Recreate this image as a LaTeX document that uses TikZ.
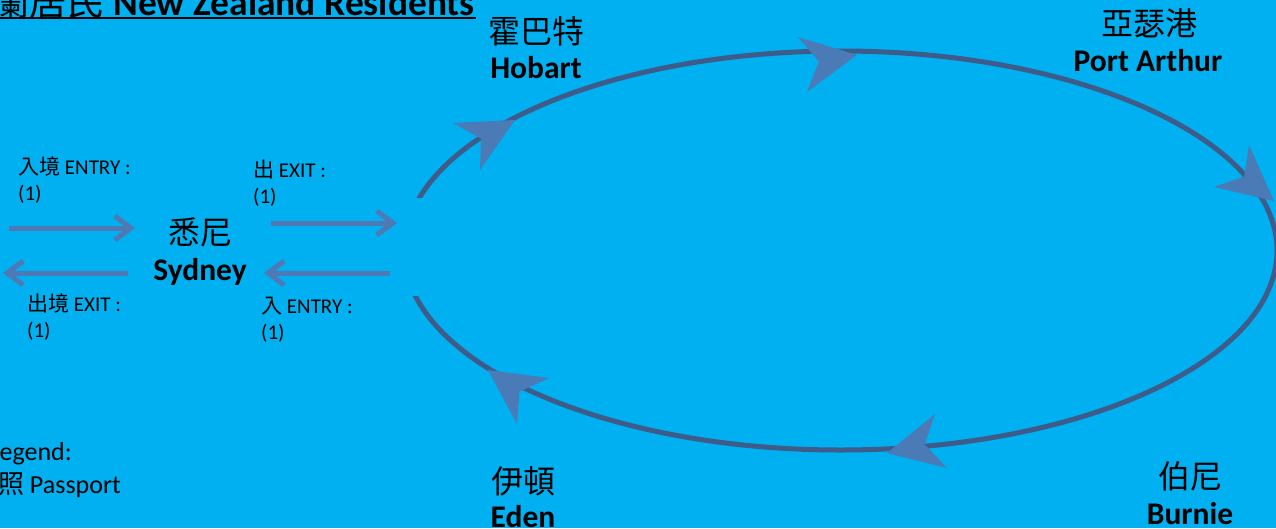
\documentclass[tikz,border=0pt]{standalone}
\usepackage{fontspec}
\setmainfont{Carlito}
\newfontfamily\cjk{Noto Sans CJK TC}
\usetikzlibrary{arrows.meta,calc}
\definecolor{bgc}{HTML}{00B0F0}
\definecolor{ringc}{HTML}{3E5C8A}
\definecolor{headc}{HTML}{4A7BB7}
\definecolor{barc}{HTML}{4F79B4}
\newcommand\AHead[4]{%
  \coordinate (#1t) at #2; \coordinate (#1a) at #3; \coordinate (#1b) at #4;
  \coordinate (#1m) at ($(#1a)!0.5!(#1b)$);
  \fill[headc] (#1t) -- (#1a) -- ($(#1t)!0.7!(#1m)$) -- (#1b) -- cycle;}
\tikzset{
  small/.style={inner sep=0pt, anchor=base west, font=\fontsize{21}{25}\selectfont},
  zh/.style={inner sep=0pt, anchor=base, font=\fontsize{32}{36}\selectfont\cjk},
  en/.style={inner sep=0pt, anchor=base, font=\fontsize{31.5}{36}\selectfont\bfseries},
  leg/.style={inner sep=0pt, anchor=base east, font=\fontsize{26}{30}\selectfont},
  bar/.style={draw=barc, line width=5pt, -{Straight Barb[length=16pt, width=24pt, line width=5pt]}},
}
\begin{document}
\begin{tikzpicture}[x=1pt,y=-1pt]
\useasboundingbox (0,0) rectangle (1276,528);
\clip (0,0) rectangle (1276,528);
\fill[bgc] (0,0) rectangle (1276,528);
% loop
\draw[ringc, line width=5pt] (840.5,250.5) ellipse [x radius=436.5, y radius=199.5];
\fill[bgc] (399,198) rectangle (434,296);
% arrowheads on loop
\AHead{hA}{(515,120)}{(453,123)}{(480,170)}
\AHead{hB}{(857,55)}{(798,37)}{(807,92)}
\AHead{hC}{(1274,201)}{(1249,145)}{(1214,187)}
\AHead{hD}{(887,453)}{(935,414)}{(947,468)}
\AHead{hE}{(488,370)}{(549,378)}{(517,424)}
% title
\node[inner sep=0pt, anchor=base east, font=\fontsize{37.5}{42}\selectfont\bfseries] (title) at (475,15) {{\cjk\mdseries 蘭居民} New Zealand Residents};
\draw[line width=1.8pt] ([yshift=-3pt]title.base west) -- ([yshift=-3pt,xshift=1pt]title.base east);
% Sydney
\node[zh] (syd) at (200,244) {悉尼};
\node[en] (sydE) at (200,280) {Sydney};
% straight arrows
\coordinate (inLs) at (9,228);   \coordinate (inLe) at (135,228);
\coordinate (outLs) at (128,273); \coordinate (outLe) at (3,273);
\coordinate (outRs) at (271,223); \coordinate (outRe) at (397,223);
\coordinate (inRs) at (390,273);  \coordinate (inRe) at (264,273);
\draw[bar] (inLs) -- (inLe);
\draw[bar] (outLs) -- (outLe);
\draw[bar] (outRs) -- (outRe);
\draw[bar] (inRs) -- (inRe);
% labels
\node[small] (inlbl) at (18,174) {{\cjk 入境} ENTRY :};
\node[small] (inlbln) at (18,200) {(1)};
\node[small] (outrlbl) at (253,177) {{\cjk 出} EXIT :};
\node[small] (outrlbln) at (253,203) {(1)};
\node[small] (outllbl) at (27,311) {{\cjk 出境} EXIT :};
\node[small] (outllbln) at (27,337) {(1)};
\node[small] (inrlbl) at (261,313) {{\cjk 入} ENTRY :};
\node[small] (inrlbln) at (261,339) {(1)};
% cities
\node[zh] (hob) at (536,43) {霍巴特};
\node[en] (hobE) at (536,78) {Hobart};
\node[zh] (pa) at (1149,35) {亞瑟港};
\node[en] (paE) at (1148,71) {Port Arthur};
\node[zh] (ede) at (523,493) {伊頓};
\node[en] (edeE) at (523,527) {Eden};
\node[zh] (bur) at (1190,488) {伯尼};
\node[en] (burE) at (1190,524) {Burnie};
% legend
\node[leg] (legT) at (72,460) {Legend:};
\node[leg] (legP) at (121,493) {{\cjk 護照} Passport};
\end{tikzpicture}
\end{document}
